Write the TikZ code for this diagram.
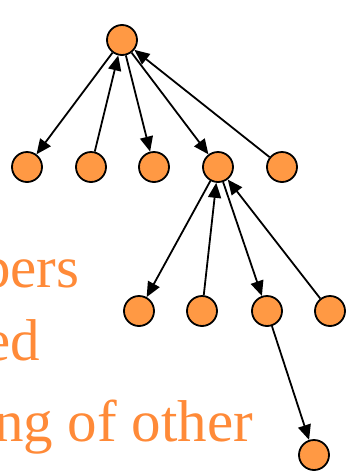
\documentclass[tikz,border=0pt]{standalone}
\usepackage{fontspec}
\setmainfont{Liberation Serif}
\usetikzlibrary{arrows.meta}
\definecolor{corange}{RGB}{255,153,68}
\definecolor{ctexte}{RGB}{255,138,56}

\begin{document}
\begin{tikzpicture}[x=1pt, y=-1pt, >={Triangle[length=15pt,width=13pt]},
  noeud/.style={circle, draw, line width=1.8pt, fill=corange, minimum size=30pt, inner sep=0pt},
  fleche/.style={->, line width=1.8pt},
  texte/.style={anchor=base west, inner sep=0pt, text=ctexte, font=\fontsize{59}{59}\selectfont}]
\clip (0,0) rectangle (347,472);
% texte coupe a gauche
\node[texte] (t1) at (-19,287) {pers};
\node[texte] (t2) at (-16,360) {ed};
\node[texte] (t3) at (-6,441) {ng of other};
% arbre
\node[noeud] (r) at (122,40) {};
\foreach \n/\x in {a/27,b/91,c/154,d/218,e/282}
  \node[noeud] (\n) at (\x,167) {};
\foreach \n/\x in {f/139,g/202,h/267,i/330}
  \node[noeud] (\n) at (\x,311) {};
\node[noeud] (j) at (314,455) {};
\foreach \s/\t in {r/a,b/r,r/c,r/d,e/r,d/f,g/d,d/h,i/d,h/j}
  \draw[fleche] (\s) -- (\t);
\end{tikzpicture}
\end{document}
